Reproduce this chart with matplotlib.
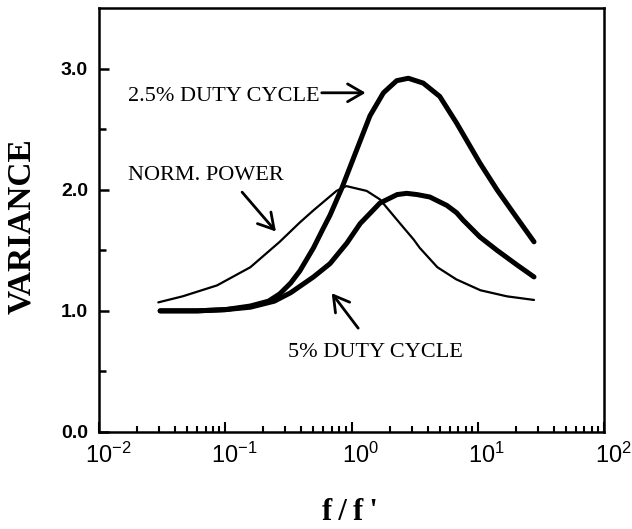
import numpy as np
import matplotlib
matplotlib.use("Agg")
import matplotlib.pyplot as plt
from matplotlib.transforms import ScaledTranslation
from matplotlib.ticker import FixedLocator, NullFormatter

# Normalised frequency f/f' and variance for each curve
f_duty25 = [0.0305, 0.06, 0.1, 0.158, 0.22, 0.27, 0.33, 0.39, 0.50, 0.59, 0.676,
            0.836, 1.1, 1.40, 1.79, 2.28, 2.82, 3.7, 5.0, 6.8, 10.4, 14.2, 19.1, 27.9]
var_duty25 = [1.0, 1.0, 1.01, 1.04, 1.08, 1.14, 1.23, 1.33, 1.52, 1.67, 1.79,
              2.01, 2.33, 2.61, 2.80, 2.90, 2.92, 2.88, 2.77, 2.55, 2.22, 2.0, 1.81, 1.57]

f_duty5 = [0.0305, 0.06, 0.1, 0.158, 0.245, 0.33, 0.50, 0.676, 0.81, 0.92, 1.17,
           1.68, 2.3, 2.74, 3.3, 4.17, 5.7, 6.8, 7.64, 10.4, 14.2, 20.4, 27.9]
var_duty5 = [1.0, 1.0, 1.01, 1.03, 1.08, 1.15, 1.28, 1.39, 1.49, 1.56, 1.72,
             1.89, 1.96, 1.97, 1.96, 1.94, 1.87, 1.81, 1.75, 1.61, 1.50, 1.38, 1.28]

f_norm = [0.0295, 0.046, 0.086, 0.158, 0.27, 0.39, 0.50, 0.76, 0.91, 1.32, 1.68,
          1.91, 2.57, 3.1, 3.47, 4.79, 6.76, 10.5, 17.0, 27.9]
var_norm = [1.07, 1.12, 1.21, 1.36, 1.57, 1.73, 1.83, 1.99, 2.03, 1.99, 1.92,
            1.85, 1.69, 1.59, 1.52, 1.36, 1.26, 1.17, 1.12, 1.09]

x_ticks = [1e-2, 1e-1, 1e0, 1e1, 1e2]
x_ticklabels = [r"$10^{-2}$", r"$10^{-1}$", r"$10^{0}$", r"$10^{1}$", r"$10^{2}$"]
y_ticks = [0.0, 1.0, 2.0, 3.0]
y_ticklabels = ["0.0", "1.0", "2.0", "3.0"]

# Curve labels: (text, text anchor x, y, arrow tail x, y, arrow head x, y)
labels = [
    ("2.5% DUTY CYCLE", 0.01698, 2.73, 0.581, 2.80, 1.293, 2.80),
    ("NORM. POWER", 0.01698, 2.077, 0.136, 1.98, 0.252, 1.655),
    ("5% DUTY CYCLE", 0.314, 0.622, 1.13, 0.857, 0.697, 1.146),
]

plt.rcParams["mathtext.fontset"] = "custom"
plt.rcParams["mathtext.rm"] = "Liberation Sans"
plt.rcParams["mathtext.it"] = "Liberation Sans"
plt.rcParams["mathtext.bf"] = "Liberation Sans:bold"

fig = plt.figure(figsize=(6.32, 5.29), dpi=100)
ax = fig.add_axes([99 / 632, 1 - 432 / 529, 505 / 632, 424 / 529])

ax.plot(f_duty25, var_duty25, color="black", lw=3.6, solid_capstyle="round",
        solid_joinstyle="round")
ax.plot(f_duty5, var_duty5, color="black", lw=3.6, solid_capstyle="round",
        solid_joinstyle="round")
ax.plot(f_norm, var_norm, color="black", lw=1.6, solid_capstyle="round",
        solid_joinstyle="round")

ax.set_xscale("log")
ax.set_xlim(1e-2, 1e2)
ax.set_ylim(0, 3.5)

ax.xaxis.set_major_locator(FixedLocator(x_ticks))
ax.set_xticklabels(x_ticklabels)
minor = [m * 10.0 ** e for e in range(-2, 2) for m in range(2, 10)]
ax.xaxis.set_minor_locator(FixedLocator(minor))
ax.xaxis.set_minor_formatter(NullFormatter())

ax.set_yticks(y_ticks)
ax.set_yticklabels(y_ticklabels)
ax.yaxis.set_minor_locator(FixedLocator([0.5, 1.5, 2.5]))

for sp in ax.spines.values():
    sp.set_linewidth(1.8)

ax.tick_params(axis="both", which="both", direction="in", top=False, right=False)
ax.tick_params(axis="x", which="major", length=7, width=1.5, pad=8, labelsize=17)
ax.tick_params(axis="x", which="minor", length=4.5, width=1.5)
ax.tick_params(axis="y", which="major", length=7, width=1.8, pad=8, labelsize=14)
ax.tick_params(axis="y", which="minor", length=5, width=1.8)

for lab in ax.get_yticklabels():
    lab.set_fontfamily("Liberation Sans")
    lab.set_fontweight("bold")

shift = ScaledTranslation(9 / 100, 0, fig.dpi_scale_trans)
for lab in ax.get_xticklabels():
    lab.set_transform(lab.get_transform() + shift)

for text, tx, ty, ax0, ay0, ax1, ay1 in labels:
    ax.text(tx, ty, text, family="Liberation Serif", fontsize=16,
            ha="left", va="baseline")
    ax.annotate("", xy=(ax1, ay1), xytext=(ax0, ay0),
                arrowprops=dict(arrowstyle="->,head_length=0.55,head_width=0.32",
                                lw=2.0, color="black", mutation_scale=20,
                                shrinkA=0, shrinkB=0))

fig.text(22 / 632, 1 - 226 / 529, "VARIANCE", family="Liberation Serif",
         fontweight="bold", fontsize=24, rotation=90, ha="center", va="center")
fig.text(350 / 632, 1 - 513 / 529, "f\u2009/\u2009f\u2009'", family="Liberation Serif",
         fontweight="bold", fontsize=22, ha="center", va="center")

fig.savefig("out.png", dpi=100)
